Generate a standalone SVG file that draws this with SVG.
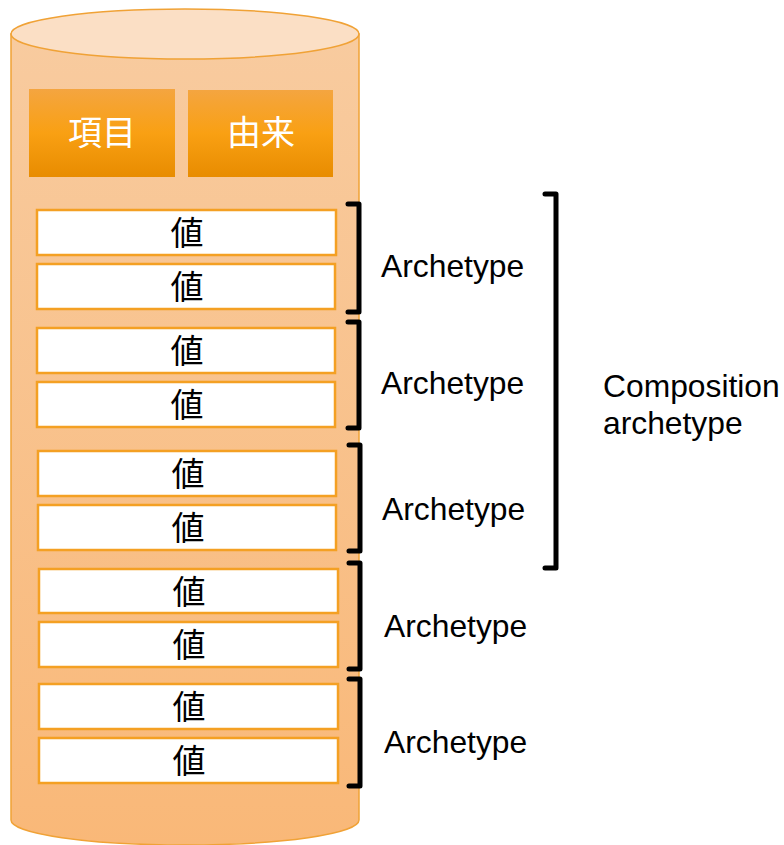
<svg xmlns="http://www.w3.org/2000/svg" width="784" height="845" viewBox="0 0 784 845">
<defs>
<linearGradient id="body" x1="0" y1="0" x2="0" y2="1">
<stop offset="0" stop-color="#f8cb9f"/>
<stop offset="1" stop-color="#f9b878"/>
</linearGradient>
<linearGradient id="hdr" x1="0" y1="0" x2="0" y2="1">
<stop offset="0" stop-color="#f4a540"/>
<stop offset="0.5" stop-color="#f9a013"/>
<stop offset="1" stop-color="#e88c00"/>
</linearGradient>
<style>
.val{fill:#fff;stroke:#f4a023;stroke-width:2.5}
.vt{font-family:"Noto Sans CJK JP","Noto Sans CJK SC",sans-serif;font-size:33px;fill:#000;text-anchor:middle}
.ht{font-family:"Noto Sans CJK JP","Noto Sans CJK SC",sans-serif;font-size:34px;fill:#fff;text-anchor:middle}
.lbl{font-family:"Liberation Sans",Arial,sans-serif;font-size:31.8px;fill:#000}
.br{fill:none;stroke:#000;stroke-width:5;stroke-linejoin:round;stroke-linecap:round}
</style>
</defs>
<g id="cylinder">
<path d="M11,34 L11,820 A174,25 0 0 0 359,820 L359,34 Z" fill="url(#body)" stroke="#f0a236" stroke-width="1.5"/>
<ellipse cx="185" cy="34" rx="174" ry="25" fill="#fbdfc5" stroke="#f0a236" stroke-width="1.5"/>
</g>
<g id="header-koumoku">
<rect x="29" y="89" width="146" height="88" fill="url(#hdr)"/>
<text class="ht" x="102" y="145">項目</text>
</g>
<g id="header-yurai">
<rect x="188" y="90" width="145" height="87" fill="url(#hdr)"/>
<text class="ht" x="261" y="145">由来</text>
</g>
<g id="values">
<g id="v1"><rect class="val" x="37" y="210" width="299" height="45"/><text class="vt" x="187" y="245">値</text></g>
<g id="v2"><rect class="val" x="37" y="264" width="298" height="45"/><text class="vt" x="187" y="299">値</text></g>
<g id="v3"><rect class="val" x="37" y="328" width="298" height="45"/><text class="vt" x="187" y="363">値</text></g>
<g id="v4"><rect class="val" x="37" y="382" width="298" height="45"/><text class="vt" x="187" y="417">値</text></g>
<g id="v5"><rect class="val" x="38" y="451" width="298" height="45"/><text class="vt" x="188" y="486">値</text></g>
<g id="v6"><rect class="val" x="38" y="505" width="298" height="45"/><text class="vt" x="188" y="540">値</text></g>
<g id="v7"><rect class="val" x="39" y="569" width="299" height="44"/><text class="vt" x="189" y="604">値</text></g>
<g id="v8"><rect class="val" x="39" y="622" width="299" height="45"/><text class="vt" x="189" y="657">値</text></g>
<g id="v9"><rect class="val" x="39" y="684" width="299" height="45"/><text class="vt" x="189" y="719">値</text></g>
<g id="v10"><rect class="val" x="39" y="738" width="299" height="45"/><text class="vt" x="189" y="773">値</text></g>
</g>
<g id="brackets">
<path class="br" d="M348,204 L359,204 L359,312 L348,312"/>
<path class="br" d="M348,322 L359,322 L359,428 L348,428"/>
<path class="br" d="M349,445 L360,445 L360,551 L349,551"/>
<path class="br" d="M349,563 L360,563 L360,669 L349,669"/>
<path class="br" d="M349,679 L360,679 L360,786 L349,786"/>
<path class="br" d="M545,194 L556,194 L556,568 L545,568"/>
</g>
<g id="labels">
<text class="lbl" x="381" y="277">Archetype</text>
<text class="lbl" x="381" y="394">Archetype</text>
<text class="lbl" x="382" y="520">Archetype</text>
<text class="lbl" x="384" y="637">Archetype</text>
<text class="lbl" x="384" y="753">Archetype</text>
<text class="lbl" x="603" y="397">Composition</text>
<text class="lbl" x="603" y="434">archetype</text>
</g>
</svg>
